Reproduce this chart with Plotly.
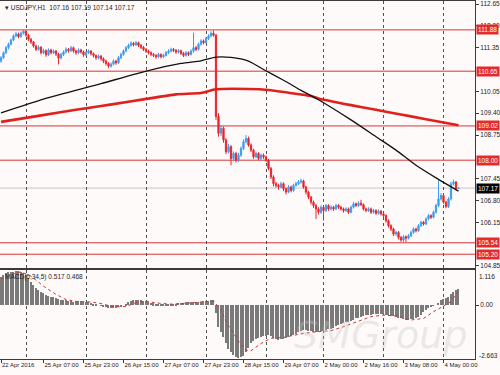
import plotly.graph_objects as go

# ---------------- data ----------------
bar_idx = list(range(184))

opens = [110.95, 111.05, 111.20, 111.35, 111.45, 111.58, 111.70, 111.76, 111.68, 111.78,
         111.84, 111.72, 111.60, 111.52, 111.40, 111.30, 111.36, 111.20, 111.26, 111.14,
         111.28, 111.20, 111.25, 111.16, 111.04, 111.15, 111.22, 111.30, 111.26, 111.35,
         111.25, 111.20, 111.28, 111.22, 111.14, 111.20, 111.25, 111.17, 111.12, 111.05,
         111.10, 111.02, 110.95, 110.88, 110.80, 110.86, 110.95, 110.90, 111.05, 111.15,
         111.25, 111.35, 111.42, 111.48, 111.44, 111.50, 111.42, 111.36, 111.30, 111.25,
         111.20, 111.15, 111.12, 111.08, 111.15, 111.08, 111.12, 111.20, 111.25, 111.30,
         111.27, 111.22, 111.26, 111.18, 111.12, 111.20, 111.15, 111.25, 111.35, 111.30,
         111.45, 111.55, 111.50, 111.62, 111.70, 111.78, 111.72, 109.30, 108.80, 108.95,
         108.60, 108.25, 108.40, 108.05, 108.20, 108.00, 108.15, 108.35, 108.55, 108.65,
         108.45, 108.30, 108.10, 108.20, 108.05, 108.15, 108.10, 108.00, 107.75, 107.50,
         107.30, 107.25, 107.20, 107.30, 107.15, 107.05, 107.20, 107.10, 107.25, 107.30,
         107.35, 107.38, 107.20, 107.05, 106.90, 106.75, 106.65, 106.55, 106.45, 106.60,
         106.50, 106.65, 106.55, 106.60, 106.55, 106.65, 106.60, 106.55, 106.50, 106.55,
         106.45, 106.60, 106.70, 106.65, 106.72, 106.68, 106.55, 106.50, 106.55, 106.45,
         106.50, 106.42, 106.48, 106.40, 106.35, 106.20, 106.05, 105.95, 105.80, 105.85,
         105.70, 105.62, 105.72, 105.68, 105.75, 105.85, 105.95, 105.90, 106.05, 106.15,
         106.10, 106.25, 106.35, 106.30, 106.45, 106.65, 106.85, 106.95, 106.75, 106.62,
         106.85, 107.30, 107.35, 107.16]

highs = [111.10, 111.24, 111.40, 111.50, 111.62, 111.75, 111.82, 111.80, 111.83, 111.88,
         111.87, 111.76, 111.64, 111.55, 111.44, 111.42, 111.40, 111.32, 111.30, 111.33,
         111.32, 111.30, 111.28, 111.20, 111.20, 111.27, 111.36, 111.34, 111.40, 111.38,
         111.29, 111.33, 111.32, 111.26, 111.25, 111.30, 111.28, 111.21, 111.15, 111.15,
         111.13, 111.06, 110.99, 110.92, 110.91, 111.00, 110.99, 111.10, 111.20, 111.30,
         111.40, 111.47, 111.54, 111.52, 111.55, 111.53, 111.46, 111.40, 111.34, 111.29,
         111.24, 111.19, 111.16, 111.20, 111.18, 111.17, 111.25, 111.30, 111.35, 111.34,
         111.31, 111.31, 111.29, 111.22, 111.25, 111.24, 111.30, 111.80, 111.40, 111.50,
         111.60, 111.59, 111.67, 111.75, 111.84, 111.86, 111.76, 109.40, 109.05, 109.00,
         108.66, 108.48, 108.45, 108.26, 108.25, 108.22, 108.41, 108.62, 108.75, 108.70,
         108.50, 108.34, 108.26, 108.24, 108.20, 108.20, 108.14, 108.04, 107.80, 107.55,
         107.36, 107.30, 107.36, 107.34, 107.19, 107.26, 107.24, 107.30, 107.36, 107.41,
         107.45, 107.42, 107.24, 107.09, 106.94, 106.80, 106.70, 106.60, 106.66, 106.64,
         106.70, 106.69, 106.66, 106.64, 106.70, 106.69, 106.64, 106.59, 106.60, 106.59,
         106.65, 106.76, 106.74, 106.78, 106.82, 106.71, 106.59, 106.60, 106.59, 106.55,
         106.54, 106.53, 106.52, 106.44, 106.39, 106.24, 106.09, 105.99, 105.90, 105.89,
         105.74, 105.77, 105.76, 105.80, 105.90, 106.00, 105.99, 106.10, 106.20, 106.19,
         106.30, 106.40, 106.39, 106.50, 106.70, 107.40, 107.02, 106.99, 106.79, 106.90,
         107.36, 107.42, 107.38, 107.19]

lows = [110.90, 111.02, 111.16, 111.30, 111.42, 111.55, 111.66, 111.63, 111.65, 111.74,
        111.68, 111.55, 111.46, 111.35, 111.25, 111.26, 111.15, 111.16, 111.08, 111.10,
        111.15, 111.16, 111.10, 110.85, 111.00, 111.10, 111.18, 111.20, 111.22, 111.20,
        111.14, 111.16, 111.17, 111.08, 111.10, 111.16, 111.12, 111.06, 110.99, 111.00,
        110.96, 110.89, 110.82, 110.74, 110.76, 110.82, 110.84, 110.87, 111.01, 111.11,
        111.21, 111.31, 111.38, 111.39, 111.40, 111.37, 111.31, 111.25, 111.20, 111.15,
        111.10, 111.07, 111.02, 111.05, 111.03, 111.04, 111.09, 111.16, 111.21, 111.22,
        111.17, 111.18, 111.13, 111.07, 111.08, 111.10, 111.12, 111.20, 111.25, 111.27,
        111.41, 111.45, 111.47, 111.58, 111.66, 111.68, 109.20, 108.70, 108.72, 108.52,
        108.18, 108.20, 107.85, 107.98, 107.93, 107.95, 108.10, 108.30, 108.50, 108.40,
        108.24, 108.04, 108.06, 108.00, 108.01, 108.04, 107.95, 107.70, 107.44, 107.22,
        107.18, 107.12, 107.16, 107.08, 106.98, 107.02, 107.04, 107.06, 107.21, 107.26,
        107.30, 107.15, 106.98, 106.84, 106.68, 106.58, 106.25, 106.38, 106.40, 106.20,
        106.46, 106.49, 106.50, 106.49, 106.51, 106.55, 106.50, 106.44, 106.46, 106.40,
        106.42, 106.56, 106.60, 106.61, 106.63, 106.50, 106.45, 106.46, 106.40, 106.41,
        106.37, 106.38, 106.35, 106.29, 106.14, 105.99, 105.89, 105.74, 105.75, 105.64,
        105.57, 105.55, 105.56, 105.64, 105.71, 105.81, 105.85, 105.87, 106.01, 106.05,
        106.07, 106.21, 106.25, 106.27, 106.41, 106.60, 106.80, 106.70, 106.57, 106.58,
        106.80, 107.25, 107.10, 107.14]

closes = [111.05, 111.20, 111.35, 111.45, 111.58, 111.70, 111.76, 111.68, 111.78, 111.84,
          111.72, 111.60, 111.52, 111.40, 111.30, 111.36, 111.20, 111.26, 111.14, 111.28,
          111.20, 111.25, 111.16, 111.04, 111.15, 111.22, 111.30, 111.26, 111.35, 111.25,
          111.20, 111.28, 111.22, 111.14, 111.20, 111.25, 111.17, 111.12, 111.05, 111.10,
          111.02, 110.95, 110.88, 110.80, 110.86, 110.95, 110.90, 111.05, 111.15, 111.25,
          111.35, 111.42, 111.48, 111.44, 111.50, 111.42, 111.36, 111.30, 111.25, 111.20,
          111.15, 111.12, 111.08, 111.15, 111.08, 111.12, 111.20, 111.25, 111.30, 111.27,
          111.22, 111.26, 111.18, 111.12, 111.20, 111.15, 111.25, 111.35, 111.30, 111.45,
          111.55, 111.50, 111.62, 111.70, 111.78, 111.72, 109.30, 108.80, 108.95, 108.60,
          108.25, 108.40, 108.05, 108.20, 108.00, 108.15, 108.35, 108.55, 108.65, 108.45,
          108.30, 108.10, 108.20, 108.05, 108.15, 108.10, 108.00, 107.75, 107.50, 107.30,
          107.25, 107.20, 107.30, 107.15, 107.05, 107.20, 107.10, 107.25, 107.30, 107.35,
          107.38, 107.20, 107.05, 106.90, 106.75, 106.65, 106.55, 106.45, 106.60, 106.50,
          106.65, 106.55, 106.60, 106.55, 106.65, 106.60, 106.55, 106.50, 106.55, 106.45,
          106.60, 106.70, 106.65, 106.72, 106.68, 106.55, 106.50, 106.55, 106.45, 106.50,
          106.42, 106.48, 106.40, 106.35, 106.20, 106.05, 105.95, 105.80, 105.85, 105.70,
          105.62, 105.72, 105.68, 105.75, 105.85, 105.95, 105.90, 106.05, 106.15, 106.10,
          106.25, 106.35, 106.30, 106.45, 106.65, 106.85, 106.95, 106.75, 106.62, 106.85,
          107.30, 107.35, 107.16, 107.17]

ma_black_idx = [0, 17, 40, 57, 72, 80, 86, 92, 99, 105, 113, 120, 127, 140, 150, 158, 166, 175, 183]
ma_black_val = [109.41, 109.82, 110.28, 110.63, 110.88, 110.96, 111.07, 111.06, 110.95, 110.70,
                110.38, 110.08, 109.80, 109.20, 108.70, 108.30, 107.85, 107.43, 107.08]

ma_red_idx = [0, 15, 30, 45, 57, 70, 80, 86, 99, 107, 115, 124, 127, 140, 150, 160, 170, 183]
ma_red_val = [109.14, 109.32, 109.50, 109.67, 109.81, 109.96, 110.00, 110.11, 110.12, 110.09,
              110.01, 109.91, 109.84, 109.64, 109.50, 109.36, 109.22, 109.04]

levels = [111.88, 110.65, 109.02, 108.00, 105.54, 105.20]
last_price = 107.17
# axis ticks that remain visible beside the level boxes
price_ticks = [104.85, 106.15, 106.80, 107.45, 108.75,
               109.40, 110.05, 111.35, 112.00, 112.65]

macd_hist = [0.93, 0.98, 1.04, 1.07, 1.09, 1.10, 1.11, 1.116, 1.10, 1.06,
             0.98, 0.88, 0.76, 0.66, 0.55, 0.48, 0.42, 0.38, 0.34, 0.31,
             0.28, 0.27, 0.24, 0.21, 0.18, 0.16, 0.15, 0.13, 0.12, 0.11,
             0.12, 0.13, 0.12, 0.11, 0.11, 0.09, 0.07, 0.05, 0.02, 0.00,
             -0.03, -0.06, -0.08, -0.10, -0.11, -0.11, -0.10, -0.07, -0.04, 0.00,
             0.05, 0.09, 0.13, 0.16, 0.17, 0.17, 0.16, 0.14, 0.12, 0.10,
             0.08, 0.06, 0.04, 0.03, 0.02, 0.02, 0.02, 0.03, 0.02, 0.03,
             0.05, 0.07, 0.08, 0.08, 0.09, 0.09, 0.09, 0.10, 0.09, 0.10,
             0.11, 0.12, 0.13, 0.14, 0.15, 0.16, -0.27, -0.71, -0.90, -1.04,
             -1.25, -1.45, -1.55, -1.65, -1.72, -1.74, -1.72, -1.66, -1.55, -1.40,
             -1.25, -1.18, -1.12, -1.08, -1.05, -1.02, -1.00, -0.99, -1.02, -1.08,
             -1.13, -1.14, -1.12, -1.10, -1.08, -1.05, -1.02, -0.98, -0.94, -0.90,
             -0.85, -0.82, -0.82, -0.84, -0.86, -0.88, -0.89, -0.88, -0.86, -0.84,
             -0.82, -0.79, -0.77, -0.74, -0.70, -0.67, -0.63, -0.60, -0.57, -0.54,
             -0.51, -0.48, -0.44, -0.41, -0.38, -0.35, -0.33, -0.32, -0.31, -0.30,
             -0.30, -0.30, -0.30, -0.30, -0.32, -0.34, -0.36, -0.37, -0.38, -0.41,
             -0.44, -0.47, -0.49, -0.48, -0.46, -0.45, -0.44, -0.40, -0.32, -0.24,
             -0.16, -0.11, -0.07, -0.03, 0.00, 0.08, 0.16, 0.19, 0.22, 0.28,
             0.36, 0.44, 0.49, 0.517]

signal_idx = [0, 4, 8, 12, 17, 22, 26, 30, 36, 40, 45, 50, 54, 58, 62, 68, 74, 80, 85,
              88, 90, 93, 96, 98, 100, 104, 108, 113, 121, 126, 132, 137, 142, 148, 153,
              158, 164, 169, 173, 180, 183]
signal_val = [0.85, 1.00, 1.09, 0.95, 0.62, 0.35, 0.18, 0.12, 0.10, 0.05, -0.06, -0.05,
              0.08, 0.13, 0.07, 0.03, 0.06, 0.10, 0.13, -0.15, -0.55, -0.93, -1.30, -1.48,
              -1.50, -1.26, -1.09, -1.06, -0.93, -0.88, -0.84, -0.71, -0.55, -0.38, -0.33,
              -0.36, -0.49, -0.44, -0.22, 0.11, 0.468]

day_start_idx = [10, 34, 58, 82, 106, 129, 153, 177]
time_label_idx = [0, 17, 33, 49, 65, 81, 97, 113, 129, 145, 161, 177]
time_labels = ["22 Apr 2016", "25 Apr 07:00", "25 Apr 23:00", "26 Apr 15:00",
               "27 Apr 07:00", "27 Apr 23:00", "28 Apr 15:00", "29 Apr 07:00",
               "2 May 00:00", "2 May 16:00", "3 May 08:00", "4 May 00:00"]

title_text = "USDJPY,H1  107.16 107.19 107.14 107.17"
macd_text = "MACD(6,34,5) 0.517 0.468"
macd_max_label = "1.116"
macd_min_label = "-2.663"
watermark = "SMGroup"

# ---------------- styling ----------------
FONT = "Liberation Sans, Arial, sans-serif"
BG = "#fffafa"
BLUE = "#3a9cf2"
RED = "#e8242c"
LEVEL_RED = "#d83535"
FRAME = "#3a3a3a"
GRID = "#505050"

fig = go.Figure()

fig.add_trace(go.Candlestick(
    x=bar_idx, open=opens, high=highs, low=lows, close=closes,
    increasing=dict(line=dict(color=BLUE, width=1), fillcolor=BLUE),
    decreasing=dict(line=dict(color=RED, width=1), fillcolor=RED),
    whiskerwidth=0, showlegend=False, hoverinfo="skip",
    xaxis="x", yaxis="y"))

fig.add_trace(go.Scatter(x=ma_red_idx, y=ma_red_val, mode="lines",
                         line=dict(color="#e0201c", width=2.6, shape="spline", smoothing=0.6),
                         showlegend=False, hoverinfo="skip", xaxis="x", yaxis="y"))
fig.add_trace(go.Scatter(x=ma_black_idx, y=ma_black_val, mode="lines",
                         line=dict(color="#111111", width=1.3, shape="spline", smoothing=0.6),
                         showlegend=False, hoverinfo="skip", xaxis="x", yaxis="y"))

fig.add_trace(go.Bar(x=bar_idx, y=macd_hist, width=0.42,
                     marker=dict(color="#7a7a7a", line=dict(width=0)),
                     showlegend=False, hoverinfo="skip", xaxis="x2", yaxis="y2"))
fig.add_trace(go.Scatter(x=signal_idx, y=signal_val, mode="lines",
                         line=dict(color="#c23a3a", width=1, dash="dot"),
                         showlegend=False, hoverinfo="skip", xaxis="x2", yaxis="y2"))

shapes = []
for lv in levels:
    shapes.append(dict(type="line", xref="x domain", x0=0, x1=1, yref="y", y0=lv, y1=lv,
                       line=dict(color=LEVEL_RED, width=1), layer="below"))
shapes.append(dict(type="line", xref="x domain", x0=0, x1=1, yref="y",
                   y0=last_price, y1=last_price,
                   line=dict(color="#c4c4c4", width=1), layer="below"))

annotations = []
# watermark first so every other text is drawn above it
annotations.append(dict(xref="paper", x=0.80, xanchor="center",
                        yref="paper", y=0.0, yanchor="bottom", yshift=0,
                        text=watermark, showarrow=False,
                        font=dict(family="DejaVu Sans, sans-serif", size=38,
                                  color="rgba(195,195,195,0.35)", style="italic")))
for lv in levels:
    annotations.append(dict(xref="paper", x=1, xanchor="left", xshift=1,
                            yref="y", y=lv, yanchor="middle",
                            text=f"{lv:.2f}", showarrow=False,
                            font=dict(family=FONT, size=6.5, color="white"),
                            bgcolor="#e32b2b", borderpad=1))
annotations.append(dict(xref="paper", x=1, xanchor="left", xshift=1,
                        yref="y", y=last_price, yanchor="middle",
                        text=f"{last_price:.2f}", showarrow=False,
                        font=dict(family=FONT, size=6.5, color="white"),
                        bgcolor="#000000", borderpad=1))
annotations.append(dict(xref="paper", x=0, xanchor="left", xshift=3,
                        yref="paper", y=1, yanchor="top", yshift=-1,
                        text="\u25BE " + title_text, showarrow=False,
                        font=dict(family=FONT, size=6.5, color="#222222")))
annotations.append(dict(xref="paper", x=0, xanchor="left", xshift=3,
                        yref="y2 domain", y=1, yanchor="top", yshift=-1,
                        text=macd_text, showarrow=False,
                        font=dict(family=FONT, size=6.5, color="#222222")))
annotations.append(dict(xref="paper", x=1, xanchor="left", xshift=2,
                        yref="y2 domain", y=1, yanchor="top", yshift=-1,
                        text=macd_max_label, showarrow=False,
                        font=dict(family=FONT, size=6.5, color="#222222")))
annotations.append(dict(xref="paper", x=1, xanchor="left", xshift=2,
                        yref="y2 domain", y=0, yanchor="bottom", yshift=-2,
                        text=macd_min_label, showarrow=False,
                        font=dict(family=FONT, size=6.5, color="#222222")))

xrange = [-0.4, 189.6]

fig.update_layout(
    width=500, height=375,
    margin=dict(l=0, r=25, t=1, b=16, autoexpand=False),
    paper_bgcolor=BG, plot_bgcolor=BG,
    font=dict(family=FONT, size=6.5, color="#222222"),
    showlegend=False, bargap=0,
    shapes=shapes, annotations=annotations,
    xaxis=dict(domain=[0, 1], range=xrange, anchor="y",
               tickvals=day_start_idx, showticklabels=False, ticks="",
               showgrid=True, gridcolor=GRID, griddash="dot", gridwidth=1,
               showline=True, linecolor=FRAME, linewidth=1, mirror=True,
               zeroline=False, rangeslider=dict(visible=False), automargin=False),
    yaxis=dict(domain=[0.2542, 1], range=[104.79, 112.74], anchor="x", side="right",
               tickvals=price_ticks, tickformat=".2f", ticks="outside", ticklen=3,
               tickcolor=FRAME, showgrid=False, zeroline=False,
               showline=True, linecolor=FRAME, linewidth=1, mirror=True,
               automargin=False,
               tickfont=dict(family=FONT, size=6.5, color="#222222")),
    xaxis2=dict(domain=[0, 1], range=xrange, anchor="y2", matches="x",
                tickvals=time_label_idx, ticktext=time_labels, tickangle=0,
                ticks="outside", ticklen=3, tickcolor=FRAME,
                ticklabelposition="outside right",
                tickfont=dict(family=FONT, size=6, color="#222222"),
                showgrid=False, automargin=False,
                minor=dict(tickvals=day_start_idx, showgrid=True, gridcolor=GRID,
                           griddash="dot", gridwidth=1, ticks=""),
                showline=True, linecolor=FRAME, linewidth=1, mirror=True,
                zeroline=False),
    yaxis2=dict(domain=[0, 0.2486], range=[-1.77, 1.15], anchor="x2", side="right",
                tickvals=[0], ticktext=["0.00"], ticks="outside", ticklen=3,
                tickcolor=FRAME, showgrid=False, zeroline=False, automargin=False,
                showline=True, linecolor=FRAME, linewidth=1, mirror=True,
                tickfont=dict(family=FONT, size=6.5, color="#222222")),
)

fig.write_html("out.html")
